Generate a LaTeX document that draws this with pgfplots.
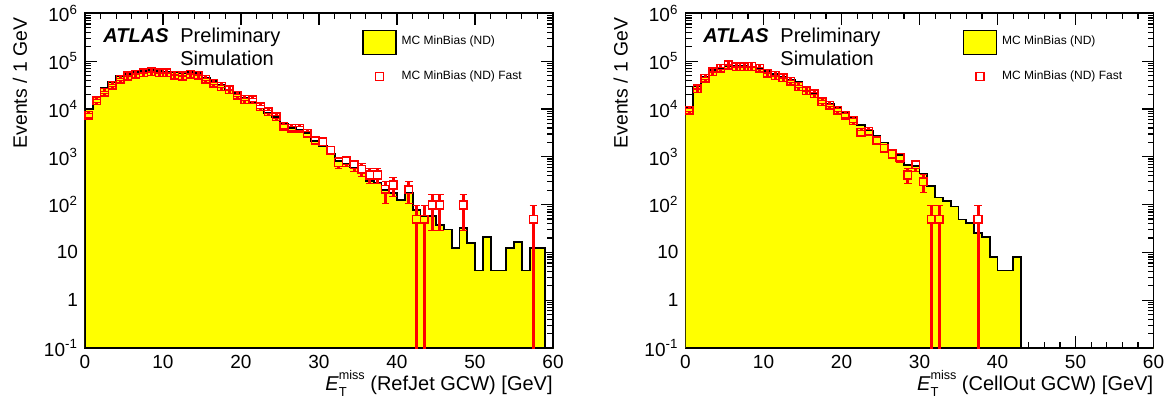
\documentclass[border=0pt]{standalone}
\usepackage{pgfplots}
\pgfplotsset{compat=1.18}
\usepackage{pgfplotstable}
\usepackage{fontspec}
\setmainfont{Liberation Sans}

\definecolor{histyellow}{RGB}{255,255,0}
\definecolor{fastred}{RGB}{255,0,0}

\newcommand{\etmiss}{\textit{E}\makebox[0pt][l]{\raisebox{-0.32em}{\fontsize{6.5}{7}\selectfont T}}\raisebox{0.52em}{\fontsize{6.3}{7}\selectfont miss}}

% bin lower edge, MC MinBias (ND), MC MinBias (ND) Fast, errors on Fast
\pgfplotstableread{
x   mc      fast   ep    em
0   9800    7400   602   602
1   17400   14800  852   852
2   27500   22400  1048  1048
3   37000   31600  1244  1244
4   49000   41700  1429  1429
5   53700   49000  1550  1550
6   60300   53700  1622  1622
7   63100   57500  1679  1679
8   66100   60300  1719  1719
9   61700   57500  1679  1679
10  60300   57500  1679  1679
11  58900   51300  1585  1585
12  56200   49000  1550  1550
13  58900   53700  1622  1622
14  56200   51300  1585  1585
15  44700   41700  1429  1429
16  38900   34700  1304  1304
17  31600   29500  1202  1202
18  25100   25100  1109  1109
19  21900   19500  977   977
20  17400   15800  880   880
21  14100   15500  871   871
22  10200   11200  741   741
23  8300    8700   653   653
24  6760    6900   581   581
25  4900    4370   463   463
26  3980    3980   442   442
27  3630    3980   442   442
28  3160    3090   389   389
29  2140    2240   331   331
30  1660    2090   320   320
31  1175    1380   260   260
32  830     760    193   193
33  725     830    202   202
34  600     676    182   182
35  457     550    164   164
36  316     417    143   143
37  282     417    143   143
38  204     209    101   101
39  178     257    112   112
40  126     nan    nan   nan
41  174     204    100   100
42  78      49     49    48.99
43  58      49     49    48.99
44  58      98     69    69
45  37      98     69    69
46  30      nan    nan   nan
47  12.3    nan    nan   nan
48  33      98     69    69
49  16      nan    nan   nan
50  4.2     nan    nan   nan
51  21      nan    nan   nan
52  4.2     nan    nan   nan
53  4.2     nan    nan   nan
54  12.3    nan    nan   nan
55  16.6    nan    nan   nan
56  4.2     nan    nan   nan
57  12.3    49     49    48.99
58  12.3    nan    nan   nan
59  0.001   nan    nan   nan
60  0.001   nan    nan   nan
}\refjet

\pgfplotstableread{
x   mc      fast   ep    em
0   11200   9500   682   682
1   29500   26300  1135  1135
2   47900   43700  1463  1463
3   66100   60300  1719  1719
4   70800   70800  1863  1863
5   79400   83200  2019  2019
6   79400   75900  1928  1928
7   79400   75900  1928  1928
8   75900   77600  1950  1950
9   69200   70800  1863  1863
10  63100   56200  1659  1659
11  53700   50100  1567  1567
12  47900   44700  1480  1480
13  40700   38000  1365  1365
14  36300   29500  1202  1202
15  29500   24000  1084  1084
16  21400   20900  1012  1012
17  16600   14100  831   831
18  12600   12000  767   767
19  11000   9500   682   682
20  8300    7400   602   602
21  6460    5750   531   531
22  4680    3240   398   398
23  3550    3390   408   408
24  2750    2240   331   331
25  2000    1510   272   272
26  1380    1150   237   237
27  1100    980    219   219
28  676     417    143   143
29  631     676    182   182
30  447     302    122   122
31  245     49     49    48.99
32  141     49     49    48.99
33  120     nan    nan   nan
34  91      nan    nan   nan
35  49      nan    nan   nan
36  42      nan    nan   nan
37  25      49     49    48.99
38  21      nan    nan   nan
39  8.1     nan    nan   nan
40  4.2     nan    nan   nan
41  4.2     nan    nan   nan
42  8.1     nan    nan   nan
43  0.001   nan    nan   nan
44  0.001   nan    nan   nan
45  0.001   nan    nan   nan
46  0.001   nan    nan   nan
47  0.001   nan    nan   nan
48  0.001   nan    nan   nan
49  0.001   nan    nan   nan
50  0.001   nan    nan   nan
51  0.001   nan    nan   nan
52  0.001   nan    nan   nan
53  0.001   nan    nan   nan
54  0.001   nan    nan   nan
55  0.001   nan    nan   nan
56  0.001   nan    nan   nan
57  0.001   nan    nan   nan
58  0.001   nan    nan   nan
59  0.001   nan    nan   nan
60  0.001   nan    nan   nan
}\cellout

\tikzset{atlastext/.style={anchor=base west, inner sep=0pt, font=\fontsize{10}{12}\selectfont}}

\pgfplotsset{
  atlasax/.style={
    scale only axis, width=234pt, height=167.3pt,
    xmin=0, xmax=60, ymin=0.1, ymax=1e6,
    xtick={0,10,20,30,40,50,60}, xticklabels={0,10,20,30,40,50,60},
    minor x tick num=4,
    ytick={0.1,1,10,100,1000,10000,100000,1000000},
    yticklabels={10\textsuperscript{-1},1,10,10\textsuperscript{2},10\textsuperscript{3},10\textsuperscript{4},10\textsuperscript{5},10\textsuperscript{6}},
    tick align=inside,
    major tick length=6pt, minor tick length=3pt,
    axis line style={line width=0.9pt},
    tick style={black, line width=0.6pt},
    tick label style={font=\fontsize{9.5}{11}\selectfont},
    every axis x label/.style={at={(rel axis cs:1,0)}, anchor=base east, inner sep=0pt, yshift=-21pt, font=\fontsize{10}{12}\selectfont},
    ylabel={Events / 1 GeV},
    every axis y label/.style={at={(rel axis cs:0,1)}, xshift=-29pt, yshift=-2pt, rotate=90, anchor=base east, inner sep=0pt, font=\fontsize{9.7}{12}\selectfont},
    legend style={at={(0.592,0.953)}, anchor=north west, draw=none, fill=none,
      font=\fontsize{6}{7}\selectfont, inner sep=0pt, row sep=6pt, column sep=0.5pt},
    legend cell align=left,
  },
  mchist/.style={const plot, fill=histyellow, draw=black, line width=0.9pt,
    legend image code/.code={\draw[fill=histyellow, draw=black, line width=0.6pt] (0pt,-6pt) rectangle (16.5pt,6pt);}},
  mcfast/.style={only marks, mark=square, mark size=1.9pt, mark options={fastred, line width=0.75pt},
    error bars/y dir=both, error bars/y explicit,
    error bars/error bar style={fastred, line width=1.5pt, shorten <=1.9pt},
    legend image code/.code={\path[draw=none, fill=none] (0pt,-2pt) rectangle (16.5pt,2pt);
      \draw[fastred, fill=none, line width=0.6pt] (6.25pt,-2pt) rectangle (10.25pt,2pt);}},
}

\begin{document}
\begin{tikzpicture}
\useasboundingbox (-42.5pt,-32pt) rectangle (543.5pt,174pt);

\begin{axis}[ymode=log, log origin=infty, atlasax, at={(0pt,0pt)},
  xlabel={\etmiss{} (RefJet GCW) [GeV]}]
\addplot[mchist] table[x=x, y=mc] {\refjet} \closedcycle;
\addlegendentry{MC MinBias (ND)}
\addplot[mcfast] table[x expr=\thisrow{x}+0.5, y=fast, y error plus=ep, y error minus=em] {\refjet};
\addlegendentry{MC MinBias (ND) Fast}
\node[atlastext] at (rel axis cs:0.0385,0.9145) {\textbf{\textit{ATLAS}}};
\node[atlastext] at (rel axis cs:0.203,0.9145) {Preliminary};
\node[atlastext] at (rel axis cs:0.203,0.843) {Simulation};
\end{axis}

\begin{axis}[ymode=log, log origin=infty, atlasax, at={(300.25pt,0pt)},
  xlabel={\etmiss{} (CellOut GCW) [GeV]}]
\addplot[mchist] table[x=x, y=mc] {\cellout} \closedcycle;
\addlegendentry{MC MinBias (ND)}
\addplot[mcfast] table[x expr=\thisrow{x}+0.5, y=fast, y error plus=ep, y error minus=em] {\cellout};
\addlegendentry{MC MinBias (ND) Fast}
\node[atlastext] at (rel axis cs:0.0374,0.9145) {\textbf{\textit{ATLAS}}};
\node[atlastext] at (rel axis cs:0.202,0.9145) {Preliminary};
\node[atlastext] at (rel axis cs:0.202,0.843) {Simulation};
\end{axis}
\end{tikzpicture}
\end{document}
